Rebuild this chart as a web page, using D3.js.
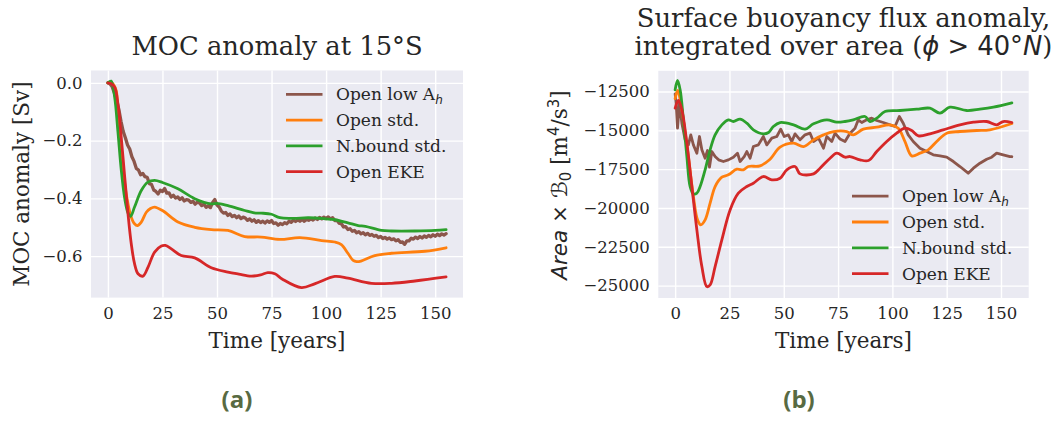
<!DOCTYPE html>
<html><head><meta charset="utf-8">
<script src="https://cdn.jsdelivr.net/npm/d3@7"></script>
<style>
body{margin:0;background:#fff}
svg{display:block}
text{fill:#262626}
</style>
</head><body>
<svg id="fig" width="1053" height="421"></svg>
<script>
// ---------- Panel (a): MOC anomaly at 15°S  [Sv] ----------
const mocLowAhYears = d3.range(0, 156);
const mocLowAh = [
  0.000,-0.004,-0.014,-0.036,-0.059,-0.092,-0.133,-0.168,-0.190,-0.215,
 -0.229,-0.256,-0.272,-0.296,-0.302,-0.318,-0.314,-0.325,-0.327,-0.349,
 -0.352,-0.371,-0.376,-0.385,-0.372,-0.376,-0.366,-0.382,-0.381,-0.395,
 -0.389,-0.399,-0.395,-0.404,-0.398,-0.409,-0.404,-0.406,-0.414,-0.410,
 -0.420,-0.413,-0.416,-0.425,-0.420,-0.431,-0.426,-0.432,-0.414,-0.404,
 -0.423,-0.430,-0.444,-0.451,-0.449,-0.459,-0.454,-0.463,-0.459,-0.467,
 -0.461,-0.470,-0.465,-0.468,-0.476,-0.471,-0.479,-0.474,-0.483,-0.477,
 -0.484,-0.479,-0.485,-0.478,-0.483,-0.477,-0.487,-0.485,-0.493,-0.487,
 -0.491,-0.484,-0.488,-0.479,-0.483,-0.475,-0.480,-0.474,-0.479,-0.472,
 -0.479,-0.473,-0.476,-0.471,-0.475,-0.468,-0.473,-0.466,-0.471,-0.465,
 -0.470,-0.464,-0.471,-0.467,-0.477,-0.476,-0.486,-0.488,-0.499,-0.498,
 -0.508,-0.505,-0.514,-0.511,-0.519,-0.515,-0.523,-0.519,-0.526,-0.521,
 -0.528,-0.525,-0.531,-0.528,-0.536,-0.532,-0.539,-0.535,-0.541,-0.537,
 -0.543,-0.540,-0.547,-0.543,-0.552,-0.551,-0.559,-0.547,-0.547,-0.538,
 -0.541,-0.534,-0.539,-0.532,-0.537,-0.530,-0.535,-0.528,-0.533,-0.526,
 -0.531,-0.524,-0.529,-0.523,-0.527,-0.522
];
const mocOpenYears = [0,1.5,2.5,3.8,4.6,6.1,7.7,9.2,10.7,12.2,13.5,15.3,17.6,19.5,21.4,25,32.1,39.8,47.4,55,62.7,70.3,78.8,88,98,104,107,110,112.4,114,116,122.3,130,145.3,155];
const mocOpen = [0,0.002,-0.005,-0.027,-0.096,-0.223,-0.35,-0.419,-0.465,-0.488,-0.494,-0.482,-0.448,-0.435,-0.430,-0.442,-0.482,-0.500,-0.508,-0.511,-0.532,-0.534,-0.542,-0.536,-0.546,-0.551,-0.56,-0.59,-0.615,-0.619,-0.617,-0.598,-0.590,-0.583,-0.571];
const mocNboundYears = [0,1.5,3.1,4.6,6.1,7.7,9.2,10.4,12.2,15.3,18.3,21.4,25,32.1,39.8,47.4,50,55,62.7,67,70.3,75,78.8,85,92,100,104,110,114.7,118,125.4,130,140.7,150,155];
const mocNbound = [0,0.006,-0.05,-0.17,-0.30,-0.40,-0.45,-0.462,-0.43,-0.373,-0.344,-0.338,-0.345,-0.367,-0.401,-0.419,-0.417,-0.425,-0.442,-0.450,-0.451,-0.455,-0.467,-0.469,-0.467,-0.471,-0.474,-0.485,-0.494,-0.497,-0.511,-0.513,-0.513,-0.511,-0.508];
const mocEkeYears = [0,1.5,3.1,4.6,6.1,7.7,9.2,10.7,12.2,13.8,16.1,18.4,21.4,24.5,26.3,29.1,33.6,39.8,47.4,55,60,65.7,70,73.3,76.5,80,88.7,95,104,110,120.8,130,140.7,155];
const mocEke = [0,-0.003,-0.015,-0.073,-0.188,-0.326,-0.453,-0.557,-0.626,-0.661,-0.669,-0.638,-0.586,-0.565,-0.563,-0.575,-0.598,-0.606,-0.640,-0.655,-0.662,-0.669,-0.665,-0.657,-0.661,-0.680,-0.709,-0.695,-0.670,-0.676,-0.694,-0.694,-0.686,-0.672];
const mocTicksY = [0, -0.2, -0.4, -0.6];

// ---------- Panel (b): area-integrated surface buoyancy flux anomaly [m^4/s^3] ----------
const bfLowAhYears = [0,0.5,1.1,2,3.1,4.6,6.1,7.2,8.4,10,11.2,12.3,13.8,14.9,15.8,16.9,18.4,20,22.2,24.5,26.8,28.7,29.9,31.8,33,34.5,36,38.3,40.6,42.2,44.5,46.8,48.6,50.2,52.1,53.7,55.2,57.5,59.8,62.1,63.7,66,68.3,69.8,72.1,73.6,75.9,78.2,80.5,82.8,84.3,85.9,88.2,90.5,92.8,95.8,98.9,101.2,103.2,105,107.3,109.6,112.7,115.8,118.8,121.9,125,128.1,131.1,134.9,137.3,140.3,143.4,145.7,148,151,154.1,155];
const bfLowAh = [-12650,-13300,-14861,-13250,-14539,-15613,-15935,-15291,-15935,-16472,-15398,-16257,-16794,-16300,-17374,-16365,-16687,-16902,-17009,-16902,-16730,-16472,-17009,-16687,-16365,-16794,-16042,-15935,-15398,-15935,-15505,-15398,-14925,-15398,-15291,-15720,-15226,-15613,-15291,-15183,-15720,-15505,-16150,-15398,-15720,-15183,-15560,-15720,-15183,-14861,-14324,-14496,-14324,-14217,-14367,-14496,-14646,-14754,-14109,-14539,-15291,-15720,-16150,-16365,-16579,-16644,-16730,-17009,-17331,-17761,-17439,-17116,-16859,-16730,-16472,-16579,-16687,-16700];
const bfOpenYears = [0,1.2,2.3,3.8,6.1,8.4,10.3,11.8,13.8,16.1,18.4,21.5,24.5,28.4,31.4,33.7,39.1,43.7,48.3,54.5,59.1,63.7,68.3,72.9,79,82,86.6,92.8,98.9,102.7,105.8,108.9,112.7,116.5,120.4,125,131.1,138.8,144.9,155];
const bfOpen = [-12950,-12434,-13000,-14324,-16687,-19264,-20768,-21090,-20768,-19694,-18620,-18019,-17868,-17503,-17546,-17331,-17288,-16859,-16085,-15828,-16042,-15613,-15291,-15076,-15076,-15291,-14925,-14797,-14646,-14861,-15720,-16644,-16472,-16257,-15720,-15183,-15076,-15011,-14968,-14560];
const bfNboundYears = [0,1.1,2.3,3.8,5.4,6.9,8.4,10,11.5,13.8,16.1,18.4,21.5,24.5,26.8,29.9,33,36,40.6,43,45.2,48.3,54.5,59.8,63.7,69.8,74.4,78.2,82,87.4,89.7,92.8,96.6,103.5,111.2,117.3,121.9,126.5,134.2,140.3,146.5,155];
const bfNbound = [-12390,-11790,-12390,-14324,-16687,-18620,-19093,-19050,-18620,-17546,-16257,-15291,-14646,-14324,-14431,-14281,-14539,-14968,-15226,-15140,-14754,-14496,-14646,-14925,-14582,-14324,-14474,-14431,-14324,-14109,-14431,-14217,-13787,-13723,-13637,-13572,-13894,-13508,-13723,-13637,-13508,-13230];
const bfEkeYears = [0,1.5,3.1,5.4,7.7,10,12.3,14.6,16.1,18.4,21.5,25.3,29.1,33,36,40.6,44.5,48.3,51.4,55.2,57.5,63.7,66.7,71.3,74.4,78.2,80.5,85.1,89,92.8,97.4,102,105.8,108.9,112,117.3,123.4,131.1,137.3,143.4,148,151,155];
const bfEke = [-13572,-13078,-13680,-15828,-18620,-21412,-23775,-25064,-24957,-23775,-22057,-20124,-19050,-18620,-18405,-17976,-18190,-18083,-17546,-17331,-17804,-17804,-17439,-16794,-16472,-16730,-16687,-16902,-16945,-16365,-15720,-15183,-14861,-15011,-15355,-15226,-14968,-14646,-14474,-14431,-14646,-14431,-14496];
const bfTicksY = [-12500, -15000, -17500, -20000, -22500, -25000];

const timeTicks = [0, 25, 50, 75, 100, 125, 150];
const seriesNames = ["Open low A", "Open std.", "N.bound std.", "Open EKE"];
const seriesColors = ["#8c564b", "#ff7f0e", "#2ca02c", "#d62728"];

const serif = "'DejaVu Serif', serif";
const sans = "'DejaVu Sans', sans-serif";
const svg = d3.select("#fig");

function drawPanel(p) {
  const x = d3.scaleLinear().domain([-7.75, 162.75]).range([p.left, p.right]);
  const y = d3.scaleLinear().domain(p.yDomain).range([p.bottom, p.top]);
  const w = p.right - p.left, h = p.bottom - p.top;
  const g = svg.append("g");

  g.append("rect").attr("x", p.left).attr("y", p.top).attr("width", w).attr("height", h)
    .attr("fill", "#eaeaf2");

  // grid + tick labels from the axes
  const ax = g.append("g").attr("transform", `translate(0,${p.bottom})`)
    .call(d3.axisBottom(x).tickValues(timeTicks).tickSize(-h).tickPadding(9.3).tickFormat(d3.format("d")));
  const ay = g.append("g").attr("transform", `translate(${p.left},0)`)
    .call(d3.axisLeft(y).tickValues(p.yTicks).tickSize(-w).tickPadding(8.5).tickFormat(p.yFormat));
  [ax, ay].forEach(a => {
    a.select(".domain").remove();
    a.selectAll(".tick line").attr("stroke", "#ffffff").attr("stroke-width", 1.4);
    a.selectAll(".tick text").attr("fill", "#262626").style("font-family", serif).style("font-size", "16.5px");
  });

  // series
  p.series.forEach((s, i) => {
    const line = d3.line().x(d => x(d[0])).y(d => y(d[1])).curve(s.curve);
    g.append("path").datum(d3.zip(s.t, s.v))
      .attr("d", line).attr("fill", "none")
      .attr("stroke", seriesColors[i]).attr("stroke-width", s.width)
      .attr("stroke-linejoin", "round").attr("stroke-linecap", "round");
  });

  // legend
  const lg = g.append("g");
  seriesNames.forEach((name, i) => {
    const yy = p.legY + i * 25.8;
    lg.append("line").attr("x1", p.legX).attr("x2", p.legX + 36.5).attr("y1", yy).attr("y2", yy)
      .attr("stroke", seriesColors[i]).attr("stroke-width", 2.8);
    const t = lg.append("text").attr("x", p.legX + 50).attr("y", yy + 6)
      .style("font-family", serif).style("font-size", "17px").text(name);
    if (i === 0) {
      t.append("tspan").attr("dy", 3.5).style("font-family", sans).style("font-style", "italic")
        .style("font-size", "12px").text("h");
    }
  });

  // x-axis label
  g.append("text").attr("x", (p.left + p.right) / 2).attr("y", 347.5).attr("text-anchor", "middle")
    .style("font-family", serif).style("font-size", "21.5px").text("Time [years]");
  return g;
}

// ---- (a) ----
const ga = drawPanel({
  left: 91, right: 463, top: 70.5, bottom: 297.6,
  yDomain: [-0.7435, 0.0427], yTicks: mocTicksY, yFormat: d3.format(".1f"),
  legX: 286, legY: 94.3,
  series: [
    {t: mocLowAhYears, v: mocLowAh, curve: d3.curveLinear, width: 3.3},
    {t: mocOpenYears, v: mocOpen, curve: d3.curveCatmullRom.alpha(0.5), width: 2.8},
    {t: mocNboundYears, v: mocNbound, curve: d3.curveCatmullRom.alpha(0.5), width: 2.8},
    {t: mocEkeYears, v: mocEke, curve: d3.curveCatmullRom.alpha(0.5), width: 2.8}
  ]
});
ga.append("text").attr("x", 277).attr("y", 55).attr("text-anchor", "middle")
  .style("font-family", serif).style("font-size", "25.8px").text("MOC anomaly at 15°S");
ga.append("text").attr("transform", "translate(29,184) rotate(-90)").attr("text-anchor", "middle")
  .style("font-family", serif).style("font-size", "21.5px").text("MOC anomaly [Sv]");

// ---- (b) ----
const gb = drawPanel({
  left: 658.3, right: 1028.7, top: 70.8, bottom: 298,
  yDomain: [-25800, -11165], yTicks: bfTicksY, yFormat: d3.format("d"),
  legX: 852, legY: 196.2,
  series: [
    {t: bfLowAhYears, v: bfLowAh, curve: d3.curveLinear, width: 2.8},
    {t: bfOpenYears, v: bfOpen, curve: d3.curveCatmullRom.alpha(0.5), width: 2.8},
    {t: bfNboundYears, v: bfNbound, curve: d3.curveCatmullRom.alpha(0.5), width: 2.8},
    {t: bfEkeYears, v: bfEke, curve: d3.curveCatmullRom.alpha(0.5), width: 2.8}
  ]
});
gb.append("text").attr("x", 843.5).attr("y", 26.7).attr("text-anchor", "middle")
  .style("font-family", serif).style("font-size", "25.8px").text("Surface buoyancy flux anomaly,");
const tb2 = gb.append("text").attr("x", 843.5).attr("y", 55).attr("text-anchor", "middle")
  .style("font-family", serif).style("font-size", "25.8px");
tb2.append("tspan").text("integrated over area (");
tb2.append("tspan").style("font-family", sans).style("font-style", "italic").text("ϕ");
tb2.append("tspan").style("font-family", sans).text(" > 40°");
tb2.append("tspan").style("font-family", sans).style("font-style", "italic").text("N");
tb2.append("tspan").text(")");

const yl = gb.append("text").attr("transform", "translate(567,185) rotate(-90)").attr("text-anchor", "middle")
  .style("font-family", serif).style("font-size", "21.5px");
yl.append("tspan").style("font-family", sans).style("font-style", "italic").text("Area");
yl.append("tspan").style("font-family", sans).text(" × ℬ");
yl.append("tspan").style("font-family", sans).style("font-size", "15px").attr("dy", 4).text("0");
yl.append("tspan").attr("dy", -4).text(" [m");
yl.append("tspan").style("font-family", sans).style("font-size", "15px").attr("dy", -8).text("4");
yl.append("tspan").attr("dy", 8).text("/s");
yl.append("tspan").style("font-family", sans).style("font-size", "15px").attr("dy", -8).text("3");
yl.append("tspan").attr("dy", 8).text("]");

// panel captions
[["(a)", 237], ["(b)", 799]].forEach(([lab, cx]) => {
  svg.append("text").attr("x", cx).attr("y", 408).attr("text-anchor", "middle")
    .style("font-family", "'Open Sans', sans-serif").style("font-weight", "700")
    .style("font-size", "24px").style("fill", "#586a42").text(lab);
});
</script>
</body></html>
